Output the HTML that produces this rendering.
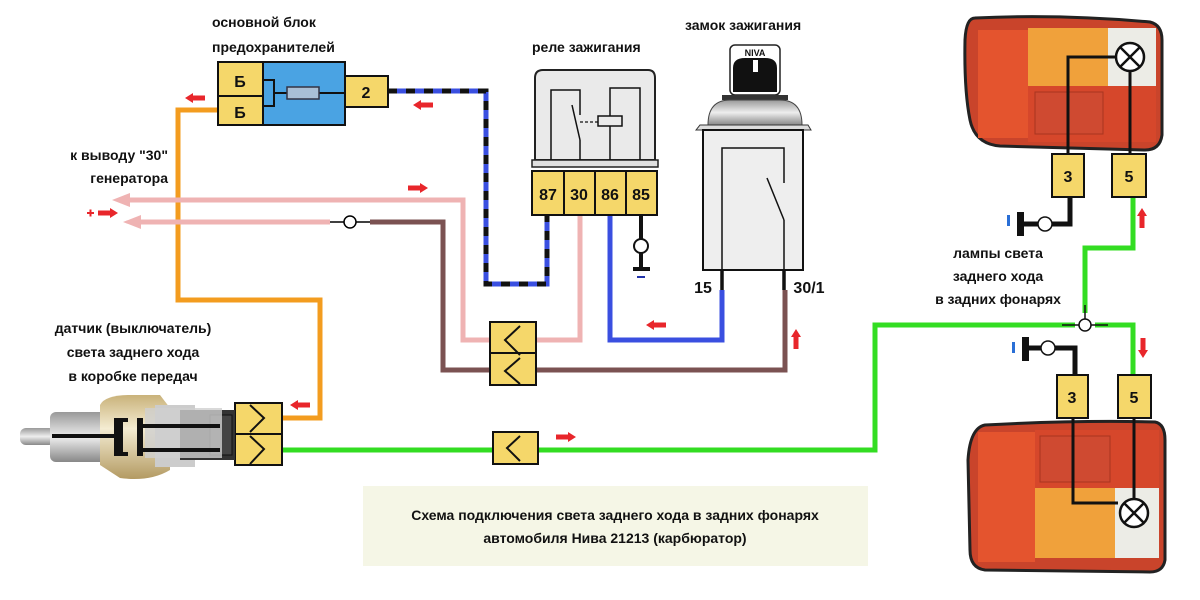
<!DOCTYPE html>
<html><head><meta charset="utf-8"><style>
html,body{margin:0;padding:0;background:#fff;}
svg{display:block}
text{font-family:"Liberation Sans","DejaVu Sans",sans-serif;font-weight:bold;fill:#111;}
</style></head><body>
<svg width="1200" height="600" viewBox="0 0 1200 600" xmlns="http://www.w3.org/2000/svg">
<defs>
<linearGradient id="met" x1="0" y1="0" x2="0" y2="1">
<stop offset="0" stop-color="#c9b27a"/><stop offset="0.4" stop-color="#f4ecd2"/><stop offset="1" stop-color="#b39a62"/></linearGradient>
<linearGradient id="gr" x1="0" y1="0" x2="0" y2="1">
<stop offset="0" stop-color="#999"/><stop offset="0.5" stop-color="#eee"/><stop offset="1" stop-color="#888"/></linearGradient>
<g id="arrL"><polygon points="0,0 8,-5 8,-2.5 20,-2.5 20,2.5 8,2.5 8,5" fill="#e8262b"/></g>
</defs>

<rect x="363" y="486" width="505" height="80" fill="#f5f6e6"/>
<text x="615" y="520" font-size="14" text-anchor="middle">Схема подключения света заднего хода в задних фонарях</text>
<text x="615" y="543" font-size="14" text-anchor="middle">автомобиля Нива 21213 (карбюратор)</text>

<text x="212" y="27" font-size="14">основной блок</text>
<text x="212" y="52" font-size="14">предохранителей</text>
<text x="532" y="52" font-size="14">реле зажигания</text>
<text x="685" y="30" font-size="14">замок зажигания</text>
<text x="168" y="160" font-size="14" text-anchor="end">к выводу "30"</text>
<text x="168" y="183" font-size="14" text-anchor="end">генератора</text>
<text x="133" y="333" font-size="14" text-anchor="middle">датчик (выключатель)</text>
<text x="133" y="357" font-size="14" text-anchor="middle">света заднего хода</text>
<text x="133" y="381" font-size="14" text-anchor="middle">в коробке передач</text>
<text x="998" y="258" font-size="14" text-anchor="middle">лампы света</text>
<text x="998" y="281" font-size="14" text-anchor="middle">заднего хода</text>
<text x="998" y="304" font-size="14" text-anchor="middle">в задних фонарях</text>

<polyline points="218,110 178,110 178,300 320,300 320,418 283,418" fill="none" stroke="#f39c1f" stroke-width="5"/>
<polyline points="125,200 463,200 463,340 580,340 580,215" fill="none" stroke="#efb3b3" stroke-width="5"/>
<polygon points="112,200 130,193 130,207" fill="#efb3b3"/>
<line x1="135" y1="222" x2="330" y2="222" stroke="#efb3b3" stroke-width="5"/>
<polygon points="123,222 141,215 141,229" fill="#efb3b3"/>
<line x1="330" y1="222" x2="370" y2="222" stroke="#000" stroke-width="1.5"/>
<circle cx="350" cy="222" r="6" fill="#fff" stroke="#000" stroke-width="1.5"/>
<polyline points="370,222 443,222 443,370 785,370 785,290" fill="none" stroke="#7b5252" stroke-width="5"/>
<polyline points="388,91 486,91 486,284 547,284 547,215" fill="none" stroke="#3a4fe0" stroke-width="5"/>
<polyline points="388,91 486,91 486,284 547,284 547,215" fill="none" stroke="#111" stroke-width="5" stroke-dasharray="9,9"/>
<polyline points="610,215 610,340 722,340 722,290" fill="none" stroke="#3a4fe0" stroke-width="5"/>
<line x1="641" y1="215" x2="641" y2="268" stroke="#111" stroke-width="4"/>
<circle cx="641" cy="246" r="7" fill="#fff" stroke="#111" stroke-width="2"/>
<rect x="633" y="267" width="17" height="4" fill="#111"/>
<rect x="637" y="276" width="8" height="2" fill="#2233aa"/>
<polyline points="283,450 875,450 875,325 1075,325" fill="none" stroke="#33dd22" stroke-width="5"/>
<polyline points="1095,325 1133,325 1133,375" fill="none" stroke="#33dd22" stroke-width="5"/>
<polyline points="1085,313 1085,248 1133,248 1133,197" fill="none" stroke="#33dd22" stroke-width="5"/>
<line x1="1062" y1="325" x2="1108" y2="325" stroke="#111" stroke-width="1.5"/>
<line x1="1085" y1="305" x2="1085" y2="325" stroke="#111" stroke-width="1.5"/>
<circle cx="1085" cy="325" r="6" fill="#fff" stroke="#111" stroke-width="1.5"/>

<use href="#arrL" x="185" y="98"/>
<use href="#arrL" x="413" y="105"/>
<use href="#arrL" transform="translate(428,188) scale(-1,1)"/>
<use href="#arrL" transform="translate(118,213) scale(-1,1)"/>
<rect x="87" y="212" width="7" height="2" fill="#e8262b"/><rect x="89.5" y="209.5" width="2" height="7" fill="#e8262b"/>
<use href="#arrL" x="646" y="325"/>
<use href="#arrL" transform="translate(796,329) rotate(90)"/>
<use href="#arrL" x="290" y="405"/>
<use href="#arrL" transform="translate(576,437) scale(-1,1)"/>
<use href="#arrL" transform="translate(1142,208) rotate(90)"/>
<use href="#arrL" transform="translate(1143,358) rotate(-90)"/>

<rect x="263" y="62" width="82" height="63" fill="#4aa3e3" stroke="#111" stroke-width="2"/>
<rect x="218" y="62" width="45" height="34" fill="#f5d76a" stroke="#111" stroke-width="2"/>
<rect x="218" y="96" width="45" height="29" fill="#f5d76a" stroke="#111" stroke-width="2"/>
<text x="240" y="87" font-size="16" text-anchor="middle">Б</text>
<text x="240" y="118" font-size="16" text-anchor="middle">Б</text>
<polyline points="263,80 274,80 274,106 263,106" fill="none" stroke="#111" stroke-width="2"/>
<line x1="274" y1="93" x2="345" y2="93" stroke="#111" stroke-width="2"/>
<rect x="287" y="87" width="32" height="12" fill="#a9bfd6" stroke="#334" stroke-width="1.5"/>
<rect x="345" y="76" width="43" height="31" fill="#f5d76a" stroke="#111" stroke-width="2"/>
<text x="366" y="98" font-size="16" text-anchor="middle">2</text>

<path d="M535,160 L535,78 Q535,70 543,70 L648,70 Q655,70 655,78 L655,160 Z" fill="#eaeaea" stroke="#222" stroke-width="2"/>
<rect x="532" y="160" width="126" height="7" fill="#e0e0e0" stroke="#222" stroke-width="1.5"/>
<polyline points="551,160 551,90 580,90 580,115" fill="none" stroke="#111" stroke-width="1.5"/>
<line x1="572" y1="105" x2="580" y2="140" stroke="#111" stroke-width="1.5"/>
<line x1="580" y1="140" x2="580" y2="160" stroke="#111" stroke-width="1.5"/>
<line x1="580" y1="122" x2="598" y2="122" stroke="#111" stroke-width="1.2" stroke-dasharray="3,2"/>
<rect x="598" y="116" width="24" height="10" fill="#eaeaea" stroke="#111" stroke-width="1.5"/>
<polyline points="610,116 610,88 640,88 640,160" fill="none" stroke="#111" stroke-width="1.5"/>
<line x1="610" y1="126" x2="610" y2="160" stroke="#111" stroke-width="1.5"/>
<g stroke="#111" stroke-width="2" fill="#f5d76a">
<rect x="532" y="171" width="32" height="44"/><rect x="564" y="171" width="31" height="44"/>
<rect x="595" y="171" width="31" height="44"/><rect x="626" y="171" width="31" height="44"/></g>
<text x="548" y="200" font-size="16" text-anchor="middle" font-weight="normal">87</text>
<text x="579" y="200" font-size="16" text-anchor="middle" font-weight="normal">30</text>
<text x="610" y="200" font-size="16" text-anchor="middle" font-weight="normal">86</text>
<text x="641" y="200" font-size="16" text-anchor="middle" font-weight="normal">85</text>

<rect x="730" y="45" width="50" height="50" rx="5" fill="#fff" stroke="#222" stroke-width="1.5"/>
<text x="755" y="56" font-size="9" text-anchor="middle" font-weight="normal">NIVA</text>
<path d="M733,92 L733,68 Q733,58 745,58 L765,58 Q777,58 777,68 L777,92 Z" fill="#111"/>
<rect x="753" y="60" width="5" height="12" fill="#fff"/>
<rect x="722" y="95" width="66" height="5" fill="#333"/>
<path d="M708,125 Q708,100 730,100 L780,100 Q802,100 802,125 Z" fill="url(#gr)" stroke="#444"/>
<polygon points="696,130 700,125 808,125 811,130" fill="#ddd" stroke="#333"/>
<rect x="703" y="130" width="100" height="140" fill="#eee" stroke="#111" stroke-width="2"/>
<polyline points="722,270 722,148 784,148 784,183" fill="none" stroke="#111" stroke-width="1.5"/>
<line x1="767" y1="178" x2="784" y2="220" stroke="#111" stroke-width="1.5"/>
<line x1="784" y1="220" x2="784" y2="270" stroke="#111" stroke-width="1.5"/>
<line x1="722" y1="270" x2="722" y2="290" stroke="#111" stroke-width="3.5"/>
<line x1="784" y1="270" x2="784" y2="290" stroke="#111" stroke-width="3.5"/>
<text x="703" y="293" font-size="16" text-anchor="middle" font-weight="normal">15</text>
<text x="809" y="293" font-size="16" text-anchor="middle" font-weight="normal">30/1</text>

<g stroke="#111" stroke-width="2" fill="#f5d76a">
<rect x="490" y="322" width="46" height="31"/><rect x="490" y="353" width="46" height="32"/>
<rect x="493" y="432" width="45" height="32"/>
<rect x="235" y="403" width="47" height="31"/><rect x="235" y="434" width="47" height="31"/></g>
<g fill="none" stroke="#111" stroke-width="2">
<polyline points="520,326 505,340 520,355"/><polyline points="520,358 505,371 520,384"/>
<polyline points="520,436 507,448 520,461"/>
<polyline points="250,405 264,418 250,432"/><polyline points="250,436 264,449 250,464"/></g>

<rect x="20" y="428" width="35" height="17" rx="6" fill="url(#gr)"/>
<rect x="50" y="412" width="60" height="50" rx="6" fill="url(#gr)"/>
<path d="M100,465 L100,405 Q105,395 130,395 L160,395 L170,408 L170,470 Q150,482 120,478 Z" fill="url(#met)"/>
<rect x="155" y="405" width="40" height="62" fill="#ccc"/>
<rect x="180" y="410" width="55" height="50" fill="#333"/>
<rect x="210" y="415" width="22" height="40" fill="#444" stroke="#111"/>
<rect x="145" y="408" width="77" height="50" fill="#cfcfcf" opacity="0.8"/>
<rect x="52" y="434" width="70" height="4" fill="#111"/>
<rect x="114" y="418" width="9" height="38" fill="#111"/>
<rect x="137" y="418" width="6" height="38" fill="#111"/>
<rect x="143" y="424" width="77" height="4" fill="#111"/>
<rect x="143" y="448" width="77" height="4" fill="#111"/>
<rect x="123" y="418" width="5" height="4" fill="#111"/><rect x="123" y="452" width="5" height="4" fill="#111"/>

<g>
<path d="M975,18 Q1060,14 1150,22 Q1162,25 1162,40 L1162,135 Q1160,150 1145,150 L1000,146 Q975,144 970,120 Q964,90 965,40 Q966,18 975,18 Z" fill="#c9442b" stroke="#222" stroke-width="3"/>
<rect x="978" y="30" width="50" height="108" fill="#e4542e"/>
<rect x="1028" y="28" width="80" height="58" fill="#f0a13b"/>
<rect x="1108" y="28" width="48" height="58" fill="#ecece6"/>
<rect x="1028" y="86" width="128" height="56" fill="#d6472b"/>
<rect x="1035" y="92" width="68" height="42" fill="#cf4a31" stroke="#a8341f"/>
<polyline points="1116,57 1068,57 1068,155" fill="none" stroke="#111" stroke-width="3"/>
<line x1="1130" y1="71" x2="1130" y2="155" stroke="#111" stroke-width="3"/>
<circle cx="1130" cy="57" r="14" fill="#fff" stroke="#111" stroke-width="2.5"/>
<path d="M1120,47 L1140,67 M1140,47 L1120,67" stroke="#111" stroke-width="2.5"/>
</g>
<g stroke="#111" stroke-width="2" fill="#f5d76a">
<rect x="1052" y="154" width="32" height="43"/><rect x="1112" y="154" width="34" height="43"/>
<rect x="1057" y="375" width="31" height="43"/><rect x="1118" y="375" width="33" height="43"/></g>
<text x="1068" y="182" font-size="16" text-anchor="middle" font-weight="normal">3</text>
<text x="1129" y="182" font-size="16" text-anchor="middle" font-weight="normal">5</text>
<text x="1072" y="403" font-size="16" text-anchor="middle" font-weight="normal">3</text>
<text x="1134" y="403" font-size="16" text-anchor="middle" font-weight="normal">5</text>
<polyline points="1070,197 1070,224 1045,224" fill="none" stroke="#111" stroke-width="5"/>
<rect x="1017" y="212" width="7" height="24" fill="#111"/><line x1="1022" y1="224" x2="1040" y2="224" stroke="#111" stroke-width="5"/>
<circle cx="1045" cy="224" r="7" fill="#fff" stroke="#111" stroke-width="1.5"/>
<rect x="1007" y="215" width="3" height="11" fill="#2a6fd6"/>
<polyline points="1075,375 1075,348 1050,348" fill="none" stroke="#111" stroke-width="5"/>
<rect x="1022" y="337" width="7" height="24" fill="#111"/><line x1="1027" y1="348" x2="1043" y2="348" stroke="#111" stroke-width="5"/>
<circle cx="1048" cy="348" r="7" fill="#fff" stroke="#111" stroke-width="1.5"/>
<rect x="1012" y="342" width="3" height="11" fill="#2a6fd6"/>

<g>
<path d="M985,425 Q1080,420 1155,422 Q1165,424 1165,440 L1165,560 Q1163,572 1150,572 L985,570 Q970,568 970,550 L968,460 Q970,428 985,425 Z" fill="#c9442b" stroke="#222" stroke-width="3"/>
<rect x="978" y="432" width="57" height="130" fill="#e4542e"/>
<rect x="1035" y="430" width="124" height="58" fill="#d6472b"/>
<rect x="1040" y="436" width="70" height="46" fill="#cf4a31" stroke="#a8341f"/>
<rect x="1035" y="488" width="80" height="70" fill="#f0a13b"/>
<rect x="1115" y="488" width="44" height="70" fill="#ecece6"/>
<polyline points="1073,418 1073,503 1118,503" fill="none" stroke="#111" stroke-width="3"/>
<line x1="1134" y1="418" x2="1134" y2="500" stroke="#111" stroke-width="3"/>
<circle cx="1134" cy="513" r="14" fill="#fff" stroke="#111" stroke-width="2.5"/>
<path d="M1124,503 L1144,523 M1144,503 L1124,523" stroke="#111" stroke-width="2.5"/>
</g>
</svg>
</body></html>
